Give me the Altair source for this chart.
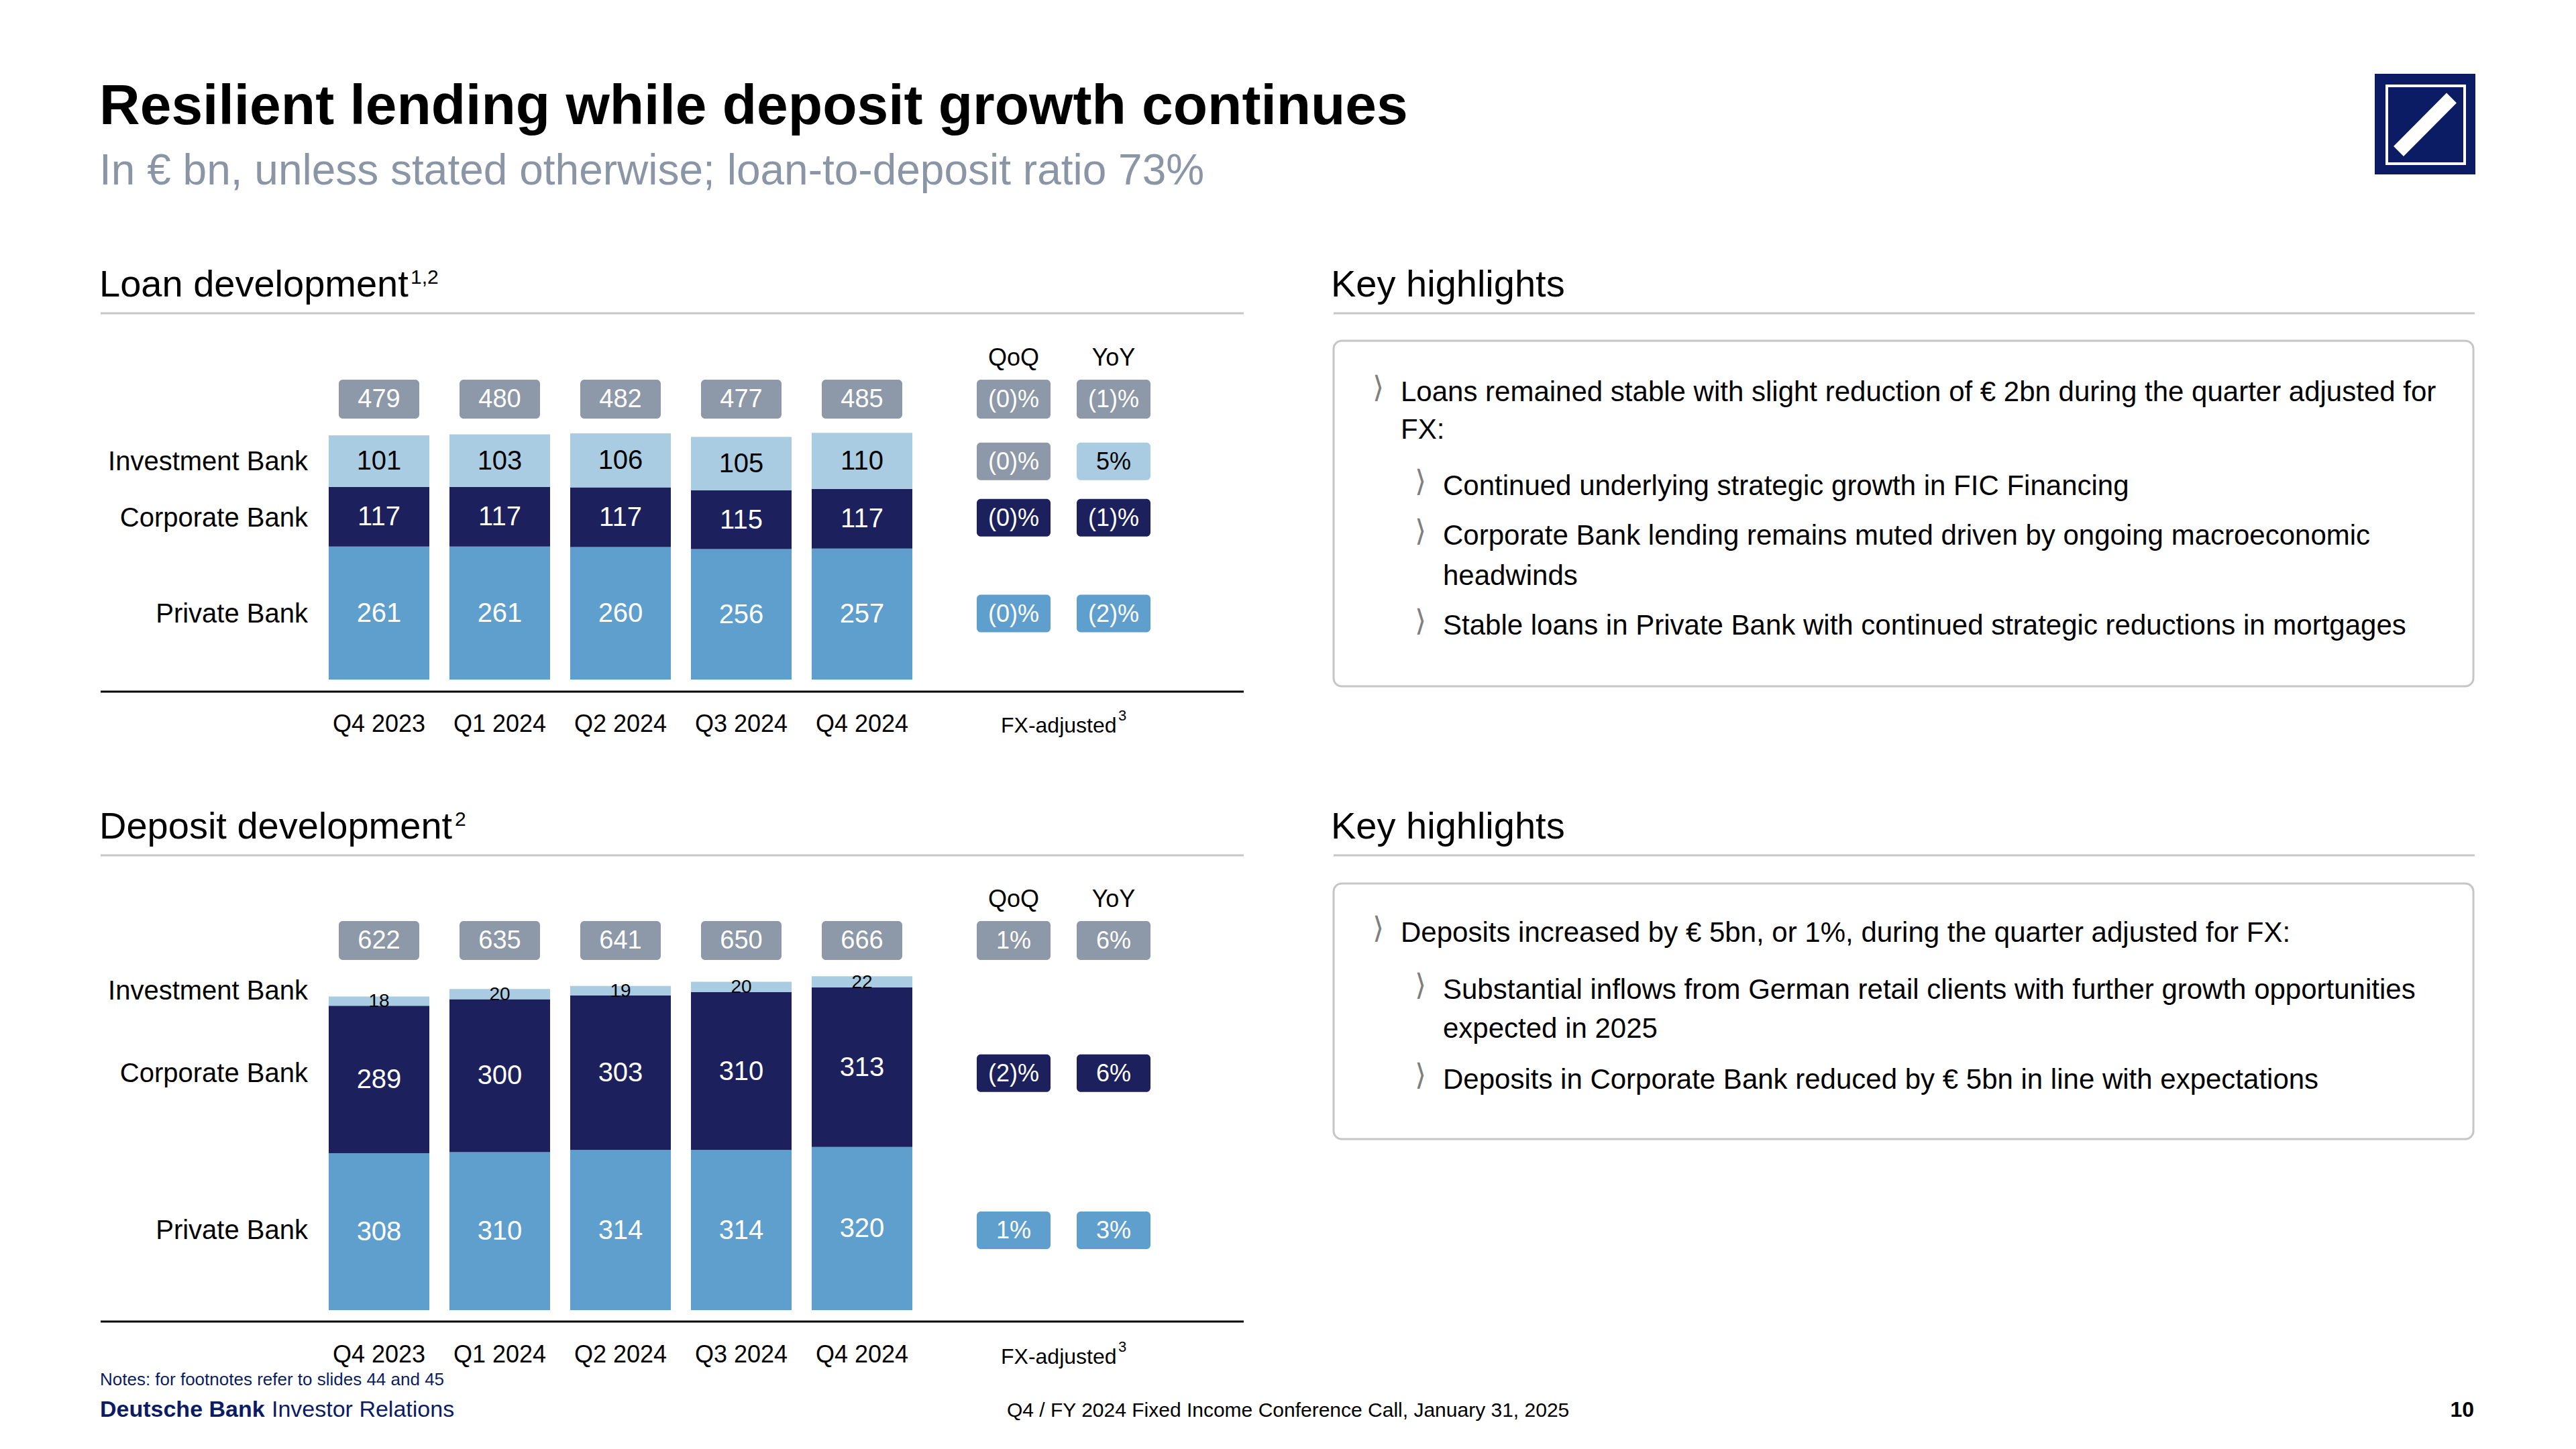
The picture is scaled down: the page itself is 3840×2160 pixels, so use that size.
import altair as alt
import pandas as pd

# ---------------- data ----------------
quarters = ["Q4 2023", "Q1 2024", "Q2 2024", "Q3 2024", "Q4 2024"]
segments = ["Private Bank", "Corporate Bank", "Investment Bank"]  # bottom -> top

loan_private = [261, 261, 260, 256, 257]
loan_corporate = [117, 117, 117, 115, 117]
loan_investment = [101, 103, 106, 105, 110]
loan_totals = [479, 480, 482, 477, 485]

deposit_private = [308, 310, 314, 314, 320]
deposit_corporate = [289, 300, 303, 310, 313]
deposit_investment = [18, 20, 19, 20, 22]
deposit_totals = [622, 635, 641, 650, 666]

change_rows = ["Total", "Investment Bank", "Corporate Bank", "Private Bank"]
loan_qoq = ["(0)%", "(0)%", "(0)%", "(0)%"]
loan_yoy = ["(1)%", "5%", "(1)%", "(2)%"]
deposit_qoq = ["1%", "", "(2)%", "1%"]
deposit_yoy = ["6%", "", "6%", "3%"]

loan_notes = [
    (1, True, "Loans remained stable with slight reduction of € 2bn during the quarter adjusted for"),
    (1, False, "FX:"),
    (2, True, "Continued underlying strategic growth in FIC Financing"),
    (2, True, "Corporate Bank lending remains muted driven by ongoing macroeconomic"),
    (2, False, "headwinds"),
    (2, True, "Stable loans in Private Bank with continued strategic reductions in mortgages"),
]
deposit_notes = [
    (1, True, "Deposits increased by € 5bn, or 1%, during the quarter adjusted for FX:"),
    (2, True, "Substantial inflows from German retail clients with further growth opportunities"),
    (2, False, "expected in 2025"),
    (2, True, "Deposits in Corporate Bank reduced by € 5bn in line with expectations"),
]

# ---------------- style ----------------
FONT = "Liberation Sans"
IB_C = "#A9CCE2"
CB_C = "#1C215D"
PB_C = "#5F9FCE"
GREY_C = "#8D98A8"
LOGO_C = "#0C1C64"
SUB_C = "#8A95A5"
RULE_C = "#C6C6C6"
NAVY_T = "#0C1C64"
K = 0.76  # px per EUR bn

ONE = pd.DataFrame({"k": [0]})


def txt(s, x, y, size, color="#000000", weight="normal", align="left",
        font=FONT, baseline="alphabetic"):
    return alt.Chart(ONE).mark_text(
        text=s, font=font, fontSize=size, fontWeight=weight, color=color,
        align=align, baseline=baseline
    ).encode(x=alt.value(x), y=alt.value(y))


def hline(x1, x2, y, color, w):
    return alt.Chart(ONE).mark_rule(color=color, strokeWidth=w).encode(
        x=alt.value(x1), x2=alt.value(x2), y=alt.value(y))


def rect(x1, x2, y1, y2, **kw):
    return alt.Chart(ONE).mark_rect(**kw).encode(
        x=alt.value(x1), x2=alt.value(x2), y=alt.value(y1), y2=alt.value(y2))


def panel(private, corporate, investment, totals, qoq, yoy, neutral,
          base, dom_max, tot_y, line_y, lab_y, fx_y, small_ib):
    yscale = alt.Scale(domain=[0, dom_max], range=[base, base - dom_max * K],
                       nice=False, zero=True)
    xscale = alt.Scale(type="band", domain=quarters, range=[490, 1360],
                       paddingInner=30 / 180, paddingOuter=0)
    rows = []
    for i, q in enumerate(quarters):
        c = 0
        for s, v in zip(segments, [private[i], corporate[i], investment[i]]):
            rows.append(dict(quarter=q, segment=s, value=v, y0=c, y1=c + v, mid=c + v / 2))
            c += v
    seg = pd.DataFrame(rows)
    X = alt.X("quarter:N", scale=xscale, axis=None)
    Ymid = alt.Y("mid:Q", scale=yscale, axis=None)
    layers = []
    layers.append(alt.Chart(seg).mark_bar(opacity=1).encode(
        x=X, y=alt.Y("y0:Q", scale=yscale, axis=None), y2="y1:Q",
        color=alt.Color("segment:N", scale=alt.Scale(domain=segments, range=[PB_C, CB_C, IB_C]),
                        legend=None)))
    big = seg[seg.segment != "Investment Bank"] if small_ib else seg
    layers.append(alt.Chart(big).mark_text(font=FONT, fontSize=40, baseline="middle", dy=1).encode(
        x=X, y=Ymid, text="value:Q",
        color=alt.Color("segment:N", scale=alt.Scale(domain=segments,
                                                      range=["#ffffff", "#ffffff", "#000000"]),
                        legend=None)))
    if small_ib:
        layers.append(alt.Chart(seg[seg.segment == "Investment Bank"]).mark_text(
            font=FONT, fontSize=28, baseline="middle", color="#000000", dy=1).encode(
            x=X, y=Ymid, text="value:Q"))
    mids = seg.groupby("segment", as_index=False)["mid"].mean()
    layers.append(alt.Chart(mids).mark_text(font=FONT, fontSize=40, align="right",
                                            baseline="middle", color="#000000", dy=1).encode(
        x=alt.value(459), y=Ymid, text="segment:N"))
    tot = pd.DataFrame({"quarter": quarters, "total": totals})
    layers.append(alt.Chart(tot).mark_bar(width=120, cornerRadius=6, color=GREY_C, opacity=1).encode(
        x=X, y=alt.value(tot_y - 29), y2=alt.value(tot_y + 29)))
    layers.append(alt.Chart(tot).mark_text(font=FONT, fontSize=38, baseline="middle",
                                           color="#ffffff", dy=1).encode(
        x=X, y=alt.value(tot_y), text="total:Q"))
    layers.append(alt.Chart(tot).mark_text(font=FONT, fontSize=36, color="#000000").encode(
        x=X, y=alt.value(lab_y), text="quarter:N"))

    mid_map = dict(zip(mids.segment, mids.mid))
    ch = []
    for r, row in enumerate(change_rows):
        for col, arr in (("QoQ", qoq), ("YoY", yoy)):
            if not arr[r]:
                continue
            tone = "Neutral" if row == "Total" or (row, col) in neutral else row
            ch.append(dict(row=row, col=col, label=arr[r], tone=tone, mid=mid_map.get(row, 0)))
    ch = pd.DataFrame(ch)
    tones = ["Neutral", "Investment Bank", "Corporate Bank", "Private Bank"]
    CX = alt.X("col:N", scale=alt.Scale(type="point", domain=["QoQ", "YoY"],
                                        range=[1511, 1660], padding=0), axis=None)
    fill = alt.Color("tone:N", scale=alt.Scale(domain=tones, range=[GREY_C, IB_C, CB_C, PB_C]),
                     legend=None)
    tcol = alt.Color("tone:N", scale=alt.Scale(domain=tones,
                                               range=["#ffffff", "#000000", "#ffffff", "#ffffff"]),
                     legend=None)
    tot_ch = ch[ch.row == "Total"]
    seg_ch = ch[ch.row != "Total"]
    layers.append(alt.Chart(tot_ch).mark_tick(orient="horizontal", thickness=58, size=110,
                                              cornerRadius=6, opacity=1).encode(
        x=CX, y=alt.value(tot_y), color=fill))
    layers.append(alt.Chart(tot_ch).mark_text(font=FONT, fontSize=36, baseline="middle", dy=1).encode(
        x=CX, y=alt.value(tot_y), text="label:N", color=tcol))
    layers.append(alt.Chart(seg_ch).mark_tick(orient="horizontal", thickness=56, size=110,
                                              cornerRadius=6, opacity=1).encode(
        x=CX, y=Ymid, color=fill))
    layers.append(alt.Chart(seg_ch).mark_text(font=FONT, fontSize=36, baseline="middle", dy=1).encode(
        x=CX, y=Ymid, text="label:N", color=tcol))

    layers.append(txt("QoQ", 1511, tot_y - 50, 36, align="center"))
    layers.append(txt("YoY", 1660, tot_y - 50, 36, align="center"))
    layers.append(txt("FX-adjusted", 1492, fx_y, 32))
    layers.append(txt("3", 1667, fx_y - 18, 22))
    layers.append(hline(150, 1854, line_y, "#000000", 3))
    return layers


def notes(lines, y0s):
    out = []
    for (lvl, bullet, s), y in zip(lines, y0s):
        cx = 2046 if lvl == 1 else 2109
        tx = 2088 if lvl == 1 else 2151
        if bullet:
            out.append(txt("⟩", cx, y - 6, 44, color="#7F7F7F", font="DejaVu Sans"))
        out.append(txt(s, tx, y, 42))
    return out


layers = []
# header
layers.append(txt("Resilient lending while deposit growth continues", 148, 185, 84, weight="bold"))
layers.append(txt("In € bn, unless stated otherwise; loan-to-deposit ratio 73%", 148, 275, 64, color=SUB_C))
# logo
layers.append(rect(3540, 3690, 110, 260, fill=LOGO_C))
layers.append(rect(3558, 3674, 128, 244, fillOpacity=0, stroke="#ffffff", strokeWidth=4))
layers.append(alt.Chart(ONE).mark_rule(color="#ffffff", strokeWidth=21, strokeCap="butt").encode(
    x=alt.value(3575.5), x2=alt.value(3654.5), y=alt.value(225.5), y2=alt.value(146)))

# section headings
layers.append(txt("Loan development", 148, 442, 56))
layers.append(txt("1,2", 612, 423, 30))
layers.append(txt("Key highlights", 1984, 442, 56))
layers.append(hline(150, 1854, 467, RULE_C, 3))
layers.append(hline(1988, 3689, 467, RULE_C, 3))
layers.append(txt("Deposit development", 148, 1250, 56))
layers.append(txt("2", 678, 1231, 30))
layers.append(txt("Key highlights", 1984, 1250, 56))
layers.append(hline(150, 1854, 1275, RULE_C, 3))
layers.append(hline(1988, 3689, 1275, RULE_C, 3))

# panels
layers += panel(loan_private, loan_corporate, loan_investment, loan_totals, loan_qoq, loan_yoy,
                {("Investment Bank", "QoQ")}, 1013, 500, 595, 1031, 1080, 1092, False)
layers += panel(deposit_private, deposit_corporate, deposit_investment, deposit_totals,
                deposit_qoq, deposit_yoy, set(), 1953, 700, 1402, 1970, 2020, 2033, True)

# highlight boxes
layers.append(rect(1988, 3687, 508, 1023, fill="#ffffff", stroke=RULE_C, strokeWidth=3, cornerRadius=12))
layers.append(rect(1988, 3687, 1317, 1698, fill="#ffffff", stroke=RULE_C, strokeWidth=3, cornerRadius=12))
layers += notes(loan_notes, [598, 654, 738, 812, 872, 946])
layers += notes(deposit_notes, [1404, 1489, 1547, 1623])

# footer
layers.append(txt("Notes: for footnotes refer to slides 44 and 45", 149, 2065, 26, color=NAVY_T))
layers.append(txt("Deutsche Bank", 149, 2112, 34, color=NAVY_T, weight="bold"))
layers.append(txt("Investor Relations", 405, 2112, 34, color=NAVY_T))
layers.append(txt("Q4 / FY 2024 Fixed Income Conference Call, January 31, 2025", 1501, 2112, 30))
layers.append(txt("10", 3688, 2112, 32, weight="bold", align="right"))

chart = alt.layer(*layers).properties(
    width=3840, height=2160, padding=0,
    autosize=alt.AutoSizeParams(type="none"), background="#ffffff"
).resolve_scale(x="independent", y="independent", color="independent").configure_view(stroke=None)

chart.save("out.html", embed_options={"renderer": "svg", "actions": False})
